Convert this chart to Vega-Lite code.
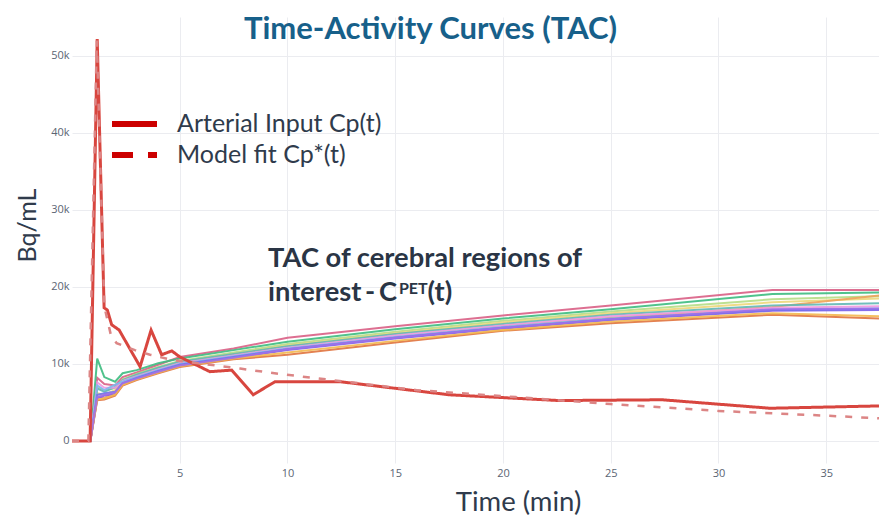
{
  "$schema": "https://vega.github.io/schema/vega-lite/v6.json",
  "width": 807,
  "height": 446,
  "autosize": "none",
  "padding": {"left": 72, "top": 17, "right": 0, "bottom": 53},
  "background": "#ffffff",
  "config": {
    "view": {"stroke": null},
    "font": "Lato",
    "axis": {
      "grid": true, "gridColor": "#ebecf0", "gridWidth": 1,
      "domain": false, "ticks": false,
      "labelFont": "Open Sans", "labelFontSize": 11, "labelColor": "#5b6573",
      "titleFont": "Lato", "titleFontWeight": "normal", "titleColor": "#2f3b4c", "titleFontSize": 26
    }
  },
  "title": {
    "text": "Time-Activity Curves (TAC)",
    "font": "Lato", "fontSize": 31, "fontWeight": "bold", "color": "#17608a",
    "anchor": "middle", "baseline": "alphabetic", "offset": -53, "dx": -45
  },
  "datasets": {
    "regions": [
      {"r":"R1","t":0,"v":0},{"r":"R1","t":0.85,"v":0},{"r":"R1","t":1.17,"v":8200},{"r":"R1","t":1.5,"v":7400},{"r":"R1","t":2.0,"v":7200},{"r":"R1","t":2.35,"v":8300},{"r":"R1","t":3,"v":8900},{"r":"R1","t":4,"v":9900},{"r":"R1","t":5,"v":10900},{"r":"R1","t":7.5,"v":12000},{"r":"R1","t":10,"v":13400},{"r":"R1","t":15,"v":14900},{"r":"R1","t":20,"v":16300},{"r":"R1","t":25,"v":17600},{"r":"R1","t":32.5,"v":19600},{"r":"R1","t":37.5,"v":19600},
      {"r":"R2","t":0,"v":0},{"r":"R2","t":0.85,"v":0},{"r":"R2","t":1.17,"v":10700},{"r":"R2","t":1.5,"v":8300},{"r":"R2","t":2.0,"v":7700},{"r":"R2","t":2.35,"v":8800},{"r":"R2","t":3,"v":9200},{"r":"R2","t":4,"v":10100},{"r":"R2","t":5,"v":10700},{"r":"R2","t":7.5,"v":11800},{"r":"R2","t":10,"v":12900},{"r":"R2","t":15,"v":14500},{"r":"R2","t":20,"v":15900},{"r":"R2","t":25,"v":17100},{"r":"R2","t":32.5,"v":19100},{"r":"R2","t":37.5,"v":19300},
      {"r":"R3","t":0,"v":0},{"r":"R3","t":0.85,"v":0},{"r":"R3","t":1.17,"v":7000},{"r":"R3","t":1.5,"v":6500},{"r":"R3","t":2.0,"v":6900},{"r":"R3","t":2.35,"v":8000},{"r":"R3","t":3,"v":8700},{"r":"R3","t":4,"v":9600},{"r":"R3","t":5,"v":10400},{"r":"R3","t":7.5,"v":11500},{"r":"R3","t":10,"v":12600},{"r":"R3","t":15,"v":14200},{"r":"R3","t":20,"v":15600},{"r":"R3","t":25,"v":16800},{"r":"R3","t":32.5,"v":18400},{"r":"R3","t":37.5,"v":18800},
      {"r":"R4","t":0,"v":0},{"r":"R4","t":0.85,"v":0},{"r":"R4","t":1.17,"v":6200},{"r":"R4","t":1.5,"v":6000},{"r":"R4","t":2.0,"v":6600},{"r":"R4","t":2.35,"v":7800},{"r":"R4","t":3,"v":8500},{"r":"R4","t":4,"v":9400},{"r":"R4","t":5,"v":10200},{"r":"R4","t":7.5,"v":11300},{"r":"R4","t":10,"v":12400},{"r":"R4","t":15,"v":14000},{"r":"R4","t":20,"v":15400},{"r":"R4","t":25,"v":16600},{"r":"R4","t":32.5,"v":18000},{"r":"R4","t":37.5,"v":18500},
      {"r":"R5","t":0,"v":0},{"r":"R5","t":0.85,"v":0},{"r":"R5","t":1.17,"v":5800},{"r":"R5","t":1.5,"v":5600},{"r":"R5","t":2.0,"v":6300},{"r":"R5","t":2.35,"v":7500},{"r":"R5","t":3,"v":8200},{"r":"R5","t":4,"v":9100},{"r":"R5","t":5,"v":9900},{"r":"R5","t":7.5,"v":10900},{"r":"R5","t":10,"v":11900},{"r":"R5","t":15,"v":13500},{"r":"R5","t":20,"v":14900},{"r":"R5","t":25,"v":16000},{"r":"R5","t":32.5,"v":17400},{"r":"R5","t":37.5,"v":18900},
      {"r":"R6","t":0,"v":0},{"r":"R6","t":0.85,"v":0},{"r":"R6","t":1.17,"v":6800},{"r":"R6","t":1.5,"v":6400},{"r":"R6","t":2.0,"v":7000},{"r":"R6","t":2.35,"v":7900},{"r":"R6","t":3,"v":8600},{"r":"R6","t":4,"v":9500},{"r":"R6","t":5,"v":10300},{"r":"R6","t":7.5,"v":11300},{"r":"R6","t":10,"v":12300},{"r":"R6","t":15,"v":13900},{"r":"R6","t":20,"v":15200},{"r":"R6","t":25,"v":16400},{"r":"R6","t":32.5,"v":17600},{"r":"R6","t":37.5,"v":17900},
      {"r":"R7","t":0,"v":0},{"r":"R7","t":0.85,"v":0},{"r":"R7","t":1.17,"v":7600},{"r":"R7","t":1.5,"v":6900},{"r":"R7","t":2.0,"v":6900},{"r":"R7","t":2.35,"v":7800},{"r":"R7","t":3,"v":8400},{"r":"R7","t":4,"v":9300},{"r":"R7","t":5,"v":10100},{"r":"R7","t":7.5,"v":11100},{"r":"R7","t":10,"v":12100},{"r":"R7","t":15,"v":13700},{"r":"R7","t":20,"v":15000},{"r":"R7","t":25,"v":16200},{"r":"R7","t":32.5,"v":17300},{"r":"R7","t":37.5,"v":17500},
      {"r":"R8","t":0,"v":0},{"r":"R8","t":0.85,"v":0},{"r":"R8","t":1.17,"v":7200},{"r":"R8","t":1.5,"v":6600},{"r":"R8","t":2.0,"v":7300},{"r":"R8","t":2.35,"v":7700},{"r":"R8","t":3,"v":8300},{"r":"R8","t":4,"v":9200},{"r":"R8","t":5,"v":10000},{"r":"R8","t":7.5,"v":11000},{"r":"R8","t":10,"v":12000},{"r":"R8","t":15,"v":13500},{"r":"R8","t":20,"v":14800},{"r":"R8","t":25,"v":15900},{"r":"R8","t":32.5,"v":17000},{"r":"R8","t":37.5,"v":17200},
      {"r":"R9","t":0,"v":0},{"r":"R9","t":0.85,"v":0},{"r":"R9","t":1.17,"v":5500},{"r":"R9","t":1.5,"v":5900},{"r":"R9","t":2.0,"v":6100},{"r":"R9","t":2.35,"v":7400},{"r":"R9","t":3,"v":8100},{"r":"R9","t":4,"v":9000},{"r":"R9","t":5,"v":9800},{"r":"R9","t":7.5,"v":10800},{"r":"R9","t":10,"v":11800},{"r":"R9","t":15,"v":13300},{"r":"R9","t":20,"v":14600},{"r":"R9","t":25,"v":15700},{"r":"R9","t":32.5,"v":16900},{"r":"R9","t":37.5,"v":17000},
      {"r":"R10","t":0,"v":0},{"r":"R10","t":0.85,"v":0},{"r":"R10","t":1.17,"v":6000},{"r":"R10","t":1.5,"v":6200},{"r":"R10","t":2.0,"v":6400},{"r":"R10","t":2.35,"v":7500},{"r":"R10","t":3,"v":8200},{"r":"R10","t":4,"v":9100},{"r":"R10","t":5,"v":9900},{"r":"R10","t":7.5,"v":10900},{"r":"R10","t":10,"v":11900},{"r":"R10","t":15,"v":13400},{"r":"R10","t":20,"v":14700},{"r":"R10","t":25,"v":15800},{"r":"R10","t":32.5,"v":17000},{"r":"R10","t":37.5,"v":17100},
      {"r":"R11","t":0,"v":0},{"r":"R11","t":0.85,"v":0},{"r":"R11","t":1.17,"v":5300},{"r":"R11","t":1.5,"v":5400},{"r":"R11","t":2.0,"v":5900},{"r":"R11","t":2.35,"v":7200},{"r":"R11","t":3,"v":7900},{"r":"R11","t":4,"v":8800},{"r":"R11","t":5,"v":9600},{"r":"R11","t":7.5,"v":10600},{"r":"R11","t":10,"v":11200},{"r":"R11","t":15,"v":12800},{"r":"R11","t":20,"v":14300},{"r":"R11","t":25,"v":15300},{"r":"R11","t":32.5,"v":16400},{"r":"R11","t":37.5,"v":15900},
      {"r":"R12","t":0,"v":0},{"r":"R12","t":0.85,"v":0},{"r":"R12","t":1.17,"v":5400},{"r":"R12","t":1.5,"v":5500},{"r":"R12","t":2.0,"v":6000},{"r":"R12","t":2.35,"v":7300},{"r":"R12","t":3,"v":8000},{"r":"R12","t":4,"v":8900},{"r":"R12","t":5,"v":9700},{"r":"R12","t":7.5,"v":10700},{"r":"R12","t":10,"v":11500},{"r":"R12","t":15,"v":13000},{"r":"R12","t":20,"v":14400},{"r":"R12","t":25,"v":15500},{"r":"R12","t":32.5,"v":16600},{"r":"R12","t":37.5,"v":16200},
      {"r":"R13","t":0,"v":0},{"r":"R13","t":0.85,"v":0},{"r":"R13","t":1.17,"v":5700},{"r":"R13","t":1.5,"v":6000},{"r":"R13","t":2.0,"v":6300},{"r":"R13","t":2.35,"v":7500},{"r":"R13","t":3,"v":8100},{"r":"R13","t":4,"v":9000},{"r":"R13","t":5,"v":9800},{"r":"R13","t":7.5,"v":10800},{"r":"R13","t":10,"v":11900},{"r":"R13","t":15,"v":13400},{"r":"R13","t":20,"v":14700},{"r":"R13","t":25,"v":15800},{"r":"R13","t":32.5,"v":17100},{"r":"R13","t":37.5,"v":17200}
    ],
    "arterial": [
      {"s":"Arterial Input Cp(t)","t":0,"v":0},{"s":"Arterial Input Cp(t)","t":0.84,"v":0},{"s":"Arterial Input Cp(t)","t":1.17,"v":52200},{"s":"Arterial Input Cp(t)","t":1.49,"v":17300},{"s":"Arterial Input Cp(t)","t":1.64,"v":17000},{"s":"Arterial Input Cp(t)","t":1.84,"v":15100},{"s":"Arterial Input Cp(t)","t":2.19,"v":14400},{"s":"Arterial Input Cp(t)","t":3.16,"v":9650},{"s":"Arterial Input Cp(t)","t":3.67,"v":14400},{"s":"Arterial Input Cp(t)","t":4.16,"v":11200},{"s":"Arterial Input Cp(t)","t":4.63,"v":11700},{"s":"Arterial Input Cp(t)","t":5.01,"v":10900},{"s":"Arterial Input Cp(t)","t":5.6,"v":10100},{"s":"Arterial Input Cp(t)","t":6.4,"v":9000},{"s":"Arterial Input Cp(t)","t":7.41,"v":9200},{"s":"Arterial Input Cp(t)","t":8.41,"v":6000},{"s":"Arterial Input Cp(t)","t":9.42,"v":7700},{"s":"Arterial Input Cp(t)","t":12.44,"v":7700},{"s":"Arterial Input Cp(t)","t":17.5,"v":6000},{"s":"Arterial Input Cp(t)","t":22.6,"v":5250},{"s":"Arterial Input Cp(t)","t":27.4,"v":5350},{"s":"Arterial Input Cp(t)","t":32.4,"v":4250},{"s":"Arterial Input Cp(t)","t":37.45,"v":4550},
      {"s":"Model fit Cp*(t)","t":0,"v":0},{"s":"Model fit Cp*(t)","t":0.76,"v":0},{"s":"Model fit Cp*(t)","t":1.15,"v":52000},{"s":"Model fit Cp*(t)","t":1.5,"v":17500},{"s":"Model fit Cp*(t)","t":1.62,"v":16000},{"s":"Model fit Cp*(t)","t":1.8,"v":13800},{"s":"Model fit Cp*(t)","t":2.07,"v":12700},{"s":"Model fit Cp*(t)","t":2.92,"v":11800},{"s":"Model fit Cp*(t)","t":3.62,"v":11200},{"s":"Model fit Cp*(t)","t":4.69,"v":10500},{"s":"Model fit Cp*(t)","t":6.4,"v":9900},{"s":"Model fit Cp*(t)","t":7.8,"v":9400},{"s":"Model fit Cp*(t)","t":9.65,"v":8700},{"s":"Model fit Cp*(t)","t":11.8,"v":8000},{"s":"Model fit Cp*(t)","t":16,"v":6600},{"s":"Model fit Cp*(t)","t":20.6,"v":5700},{"s":"Model fit Cp*(t)","t":25,"v":4800},{"s":"Model fit Cp*(t)","t":30,"v":3900},{"s":"Model fit Cp*(t)","t":35,"v":3290},{"s":"Model fit Cp*(t)","t":37.45,"v":2950}
    ]
  },
  "layer": [
    {
      "data": {"name": "regions"},
      "mark": {"type": "line", "strokeWidth": 2, "clip": true, "opacity": 0.9},
      "encoding": {
        "x": {
          "field": "t", "type": "quantitative",
          "scale": {"domain": [0, 37.45], "nice": false, "zero": false},
          "axis": {"values": [5, 10, 15, 20, 25, 30, 35], "title": "Time (min)", "labelPadding": 4,
                   "titleFontSize": 27.5, "titleX": 446, "titleY": 47, "titleBaseline": "alphabetic", "titleAlign": "center"}
        },
        "y": {
          "field": "v", "type": "quantitative",
          "scale": {"domain": [-2860, 55060], "nice": false, "zero": false},
          "axis": {"values": [0, 10000, 20000, 30000, 40000, 50000],
                   "labelExpr": "datum.value === 0 ? '0' : (datum.value / 1000) + 'k'", "title": "Bq/mL",
                   "labelPadding": 3, "titleFontSize": 25, "titleX": -37, "titleY": 208,
                   "titleBaseline": "alphabetic", "titleAlign": "center"}
        },
        "color": {
          "field": "r", "type": "nominal", "legend": null,
          "scale": {
            "domain": ["R1","R2","R3","R4","R5","R6","R7","R8","R9","R10","R11","R12","R13"],
            "range": ["#d95f85","#3dbb7f","#b5dd85","#ecd77a","#f0a35c","#62b7b5","#ee98e0","#7fb6ee","#8a5ee6","#6d73ee","#e0733e","#f3b850","#a070e8"]
          }
        }
      }
    },
    {
      "data": {"name": "arterial"},
      "mark": {"type": "line", "clip": true},
      "encoding": {
        "x": {"field": "t", "type": "quantitative", "title": "Time (min)"},
        "y": {"field": "v", "type": "quantitative", "title": "Bq/mL"},
        "color": {
          "field": "s", "type": "nominal", "legend": null,
          "scale": {"domain": ["Arterial Input Cp(t)", "Model fit Cp*(t)"], "range": ["#d8463f", "#dc8585"]}
        },
        "strokeWidth": {
          "field": "s", "type": "nominal", "legend": null,
          "scale": {"domain": ["Arterial Input Cp(t)", "Model fit Cp*(t)"], "range": [3, 2.5]}
        },
        "strokeDash": {
          "field": "s", "type": "nominal", "legend": null,
          "scale": {"domain": ["Arterial Input Cp(t)", "Model fit Cp*(t)"], "range": [[1, 0], [7, 9]]}
        }
      }
    },
    {
      "data": {"name": "arterial"},
      "mark": {"type": "line", "clip": true, "opacity": 0, "strokeWidth": 6, "color": "#cc0000"},
      "encoding": {
        "x": {"field": "t", "type": "quantitative", "title": "Time (min)"},
        "y": {"field": "v", "type": "quantitative", "title": "Bq/mL"},
        "strokeDash": {
          "field": "s", "type": "nominal",
          "scale": {"domain": ["Arterial Input Cp(t)", "Model fit Cp*(t)"], "range": [[1, 0], [21, 15]]},
          "legend": {
            "orient": "none", "legendX": 44.5, "legendY": 89, "title": null,
            "symbolType": "M-1.5,0H1.5", "symbolSize": 900, "symbolStrokeWidth": 6, "symbolStrokeColor": "#cc0000",
            "symbolOpacity": 1,
            "labelFont": "Lato", "labelFontSize": 25, "labelColor": "#2f3b4c", "labelOffset": 24.5,
            "labelLimit": 400, "rowPadding": -2, "padding": 0
          }
        }
      }
    },
    {
      "data": {"values": [{}]},
      "mark": {"type": "text", "text": "TAC of cerebral regions of", "font": "Lato", "fontWeight": "bold", "fontSize": 27.3, "color": "#2a3545", "align": "left", "baseline": "alphabetic"},
      "encoding": {"x": {"datum": 9.1}, "y": {"datum": 22636}}
    },
    {
      "data": {"values": [{}]},
      "mark": {"type": "text", "text": "interest", "font": "Lato", "fontWeight": "bold", "fontSize": 27.3, "color": "#2a3545", "align": "left", "baseline": "alphabetic"},
      "encoding": {"x": {"datum": 9.1}, "y": {"datum": 18182}}
    },
    {
      "data": {"values": [{}]},
      "mark": {"type": "text", "text": "-", "font": "Lato", "fontWeight": "bold", "fontSize": 27.3, "color": "#2a3545", "align": "left", "baseline": "alphabetic"},
      "encoding": {"x": {"datum": 13.6}, "y": {"datum": 18182}}
    },
    {
      "data": {"values": [{}]},
      "mark": {"type": "text", "text": "C", "font": "Lato", "fontWeight": "bold", "fontSize": 27.3, "color": "#2a3545", "align": "right", "baseline": "alphabetic"},
      "encoding": {"x": {"datum": 15.08}, "y": {"datum": 18182}}
    },
    {
      "data": {"values": [{}]},
      "mark": {"type": "text", "text": "PET", "font": "Lato", "fontWeight": "bold", "fontSize": 16, "color": "#2a3545", "align": "left", "baseline": "alphabetic"},
      "encoding": {"x": {"datum": 15.17}, "y": {"datum": 19091}}
    },
    {
      "data": {"values": [{}]},
      "mark": {"type": "text", "text": "(t)", "font": "Lato", "fontWeight": "bold", "fontSize": 27.3, "color": "#2a3545", "align": "left", "baseline": "alphabetic"},
      "encoding": {"x": {"datum": 16.5}, "y": {"datum": 18182}}
    }
  ],
  "resolve": {"scale": {"color": "independent", "strokeDash": "independent"}, "legend": {"strokeDash": "independent"}}
}
